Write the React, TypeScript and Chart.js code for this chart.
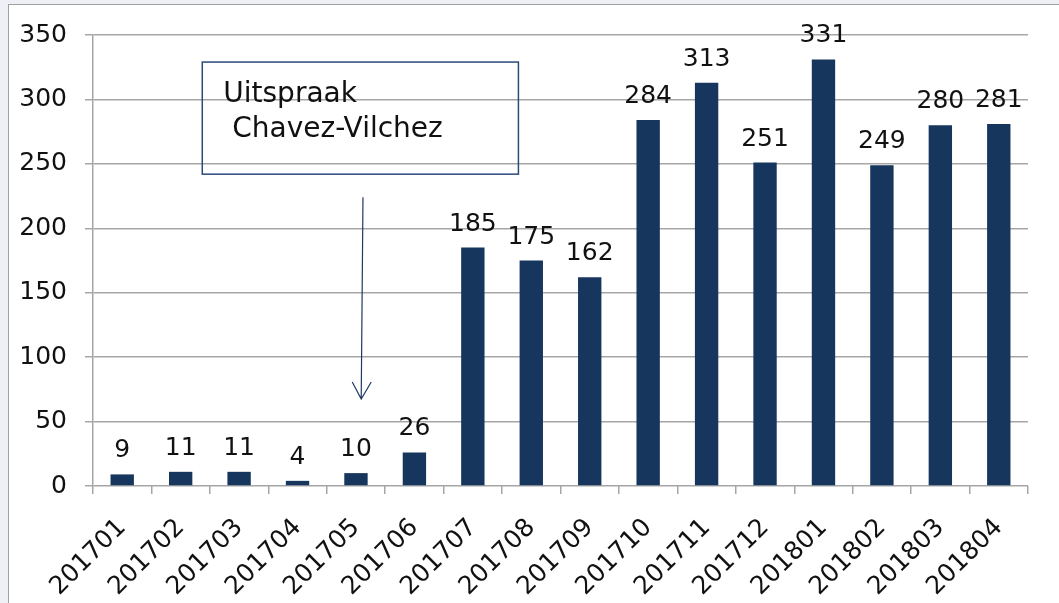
import React, { useEffect, useRef } from "react";
import { Chart, registerables } from "chart.js";

Chart.register(...registerables);

const categories = [
  "201701", "201702", "201703", "201704", "201705", "201706", "201707", "201708",
  "201709", "201710", "201711", "201712", "201801", "201802", "201803", "201804",
];
const values = [9, 11, 11, 4, 10, 26, 185, 175, 162, 284, 313, 251, 331, 249, 280, 281];
const yTicks = [0, 50, 100, 150, 200, 250, 300, 350];
const annotationLines = ["Uitspraak", " Chavez-Vilchez"];

const FONT = "'DejaVu Sans', Verdana, sans-serif";
const BAR = "#17365d";
const GRID = "#a6a6a6";

const labelPlugin = {
  id: "barLabels",
  afterDatasetsDraw(chart: any) {
    const ctx = chart.ctx;
    const meta = chart.getDatasetMeta(0);
    ctx.save();
    ctx.font = `25px ${FONT}`;
    ctx.fillStyle = "#111";
    ctx.textAlign = "center";
    ctx.textBaseline = "alphabetic";
    meta.data.forEach((bar: any, i: number) => {
      ctx.fillText(String(values[i]), bar.x, bar.y - 17);
    });
    ctx.restore();
  },
};

const annotationPlugin = {
  id: "annot",
  afterDraw(chart: any) {
    const ctx = chart.ctx;
    const xs = chart.scales.x;
    const ys = chart.scales.y;
    const bx1 = xs.getPixelForValue(1.37);
    const bx2 = xs.getPixelForValue(6.78);
    const by1 = ys.getPixelForValue(329);
    const by2 = ys.getPixelForValue(242);
    ctx.save();
    ctx.strokeStyle = "#2b4a7c";
    ctx.lineWidth = 1.5;
    ctx.strokeRect(bx1, by1, bx2 - bx1, by2 - by1);
    ctx.fillStyle = "#111";
    ctx.font = `28px ${FONT}`;
    ctx.textAlign = "left";
    ctx.textBaseline = "alphabetic";
    ctx.fillText(annotationLines[0], bx1 + 21, by1 + 40);
    ctx.fillText(annotationLines[1], bx1 + 21, by1 + 75);

    const ax1 = xs.getPixelForValue(4.12);
    const ay1 = ys.getPixelForValue(224);
    const ax2 = xs.getPixelForValue(4.09);
    const ay2 = ys.getPixelForValue(67.5);
    ctx.strokeStyle = "#1f3864";
    ctx.lineWidth = 1.2;
    ctx.beginPath();
    ctx.moveTo(ax1, ay1);
    ctx.lineTo(ax2, ay2);
    ctx.moveTo(ax2 - 9, ay2 - 17);
    ctx.lineTo(ax2, ay2);
    ctx.lineTo(ax2 + 10, ay2 - 17);
    ctx.stroke();
    ctx.restore();
  },
};

export default function App() {
  const ref = useRef<HTMLCanvasElement>(null);
  useEffect(() => {
    if (!ref.current) return;
    const chart = new Chart(ref.current, {
      type: "bar",
      data: {
        labels: categories,
        datasets: [
          {
            data: values,
            backgroundColor: BAR,
            barPercentage: 0.4,
            categoryPercentage: 1,
          },
        ],
      },
      options: {
        animation: false,
        responsive: false,
        maintainAspectRatio: false,
        layout: { padding: { top: 35, right: 31, left: 0, bottom: 0 } },
        plugins: { legend: { display: false }, tooltip: { enabled: false } },
        scales: {
          x: {
            offset: true,
            grid: {
              offset: true,
              drawOnChartArea: false,
              drawTicks: true,
              tickLength: 8,
              color: GRID,
              lineWidth: 1.5,
            },
            border: { display: false },
            ticks: {
              color: "#111",
              font: { family: FONT, size: 25 },
              maxRotation: 45,
              minRotation: 45,
              autoSkip: false,
              padding: 19,
            },
            afterFit: (s: any) => {
              s.height = 117;
            },
          },
          y: {
            min: 0,
            max: 350,
            afterBuildTicks: (s: any) => {
              s.ticks = yTicks.map((v) => ({ value: v }));
            },
            grid: { color: GRID, lineWidth: 1.5, tickLength: 8 },
            border: { display: true, color: GRID, width: 1.5 },
            ticks: {
              color: "#111",
              font: { family: FONT, size: 25 },
              padding: 18,
            },
            afterFit: (s: any) => {
              s.width = 93;
            },
          },
        },
      },
      plugins: [labelPlugin, annotationPlugin],
    });
    return () => chart.destroy();
  }, []);

  return (
    <div
      style={{
        position: "fixed",
        left: 0,
        top: 0,
        width: 1059,
        height: 603,
        background: "#eef0f6",
        overflow: "hidden",
      }}
    >
      <div
        style={{
          position: "absolute",
          left: 8,
          top: 4,
          width: 1100,
          height: 700,
          background: "#fff",
          borderTop: "1.5px solid #a0a0a0",
          borderLeft: "1.5px solid #a0a0a0",
        }}
      />
      <canvas
        ref={ref}
        width={1059}
        height={603}
        style={{ position: "absolute", left: 0, top: 0, width: 1059, height: 603 }}
      />
    </div>
  );
}
